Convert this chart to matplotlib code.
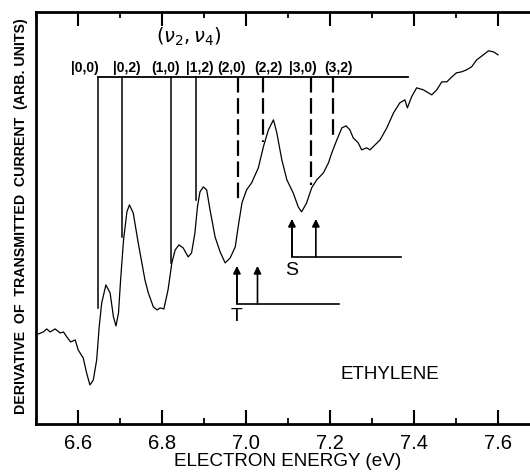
import matplotlib
matplotlib.use("Agg")
import matplotlib.pyplot as plt
from matplotlib.ticker import MultipleLocator

# derivative of transmitted current vs electron energy (arb. units)
energy = [6.505, 6.517, 6.525, 6.533, 6.545, 6.557, 6.565, 6.573, 6.582, 6.593,
	6.600, 6.612, 6.620, 6.628, 6.636, 6.644, 6.650, 6.656, 6.666, 6.676,
	6.684, 6.690, 6.696, 6.701, 6.708, 6.716, 6.722, 6.731, 6.743, 6.759,
	6.767, 6.779, 6.788, 6.795, 6.804, 6.814, 6.823, 6.831, 6.840, 6.850,
	6.862, 6.870, 6.878, 6.884, 6.890, 6.898, 6.906, 6.914, 6.926, 6.938,
	6.950, 6.962, 6.974, 6.981, 6.990, 7.001, 7.013, 7.029, 7.041, 7.053,
	7.065, 7.073, 7.085, 7.097, 7.112, 7.124, 7.132, 7.144, 7.156, 7.168,
	7.184, 7.196, 7.204, 7.216, 7.228, 7.238, 7.247, 7.255, 7.267, 7.275,
	7.287, 7.295, 7.307, 7.319, 7.335, 7.351, 7.366, 7.378, 7.384, 7.394,
	7.406, 7.422, 7.442, 7.454, 7.466, 7.478, 7.490, 7.501, 7.513, 7.525,
	7.537, 7.549, 7.565, 7.577, 7.589, 7.600]
signal = [90, 92, 95, 92, 95, 91, 92, 87, 82, 84,
	74, 66, 51, 39, 44, 64, 97, 121, 139, 131,
	107, 98, 111, 144, 184, 212, 219, 211, 181, 144,
	131, 117, 114, 116, 115, 134, 161, 174, 179, 176,
	167, 171, 191, 217, 232, 237, 234, 214, 187, 172,
	161, 166, 177, 197, 221, 234, 241, 256, 277, 294,
	304, 291, 264, 244, 231, 217, 212, 221, 236, 244,
	251, 261, 271, 284, 296, 298, 294, 286, 281, 274,
	276, 274, 279, 284, 296, 311, 321, 324, 316, 327,
	336, 334, 329, 334, 342, 342, 347, 351, 352, 354,
	357, 364, 369, 373, 372, 369]

# (nu2, nu4) vibrational assignments
level_labels = ["|0,0)", "|0,2)", "(1,0)", "|1,2)", "(2,0)", "(2,2)", "|3,0)", "(3,2)"]
level_energy = [6.646, 6.704, 6.821, 6.881, 6.980, 7.040, 7.155, 7.208]
level_end = [116, 187, 161, 224, 224, 282, 239, 289]
level_dashed = [False, False, False, False, True, True, True, True]
label_energy = [6.616, 6.716, 6.809, 6.890, 6.964, 7.052, 7.136, 7.221]
level_top = 347
level_right = 7.386

# triplet (T) and singlet (S) arrows
t_energy = [6.978, 7.027]
t_right = 7.221
s_energy = [7.109, 7.166]
s_right = 7.368

fig = plt.figure(figsize=(5.3, 4.74), dpi=100)
ax = fig.add_axes([0.0683, 0.1055, 1 - 0.0683, 0.8696])

ax.plot(energy, signal, color="black", lw=0.9)

ax.plot([level_energy[0], level_right], [level_top, level_top], color="black", lw=1.3)
for e, end, dashed in zip(level_energy, level_end, level_dashed):
	if dashed:
		ax.plot([e, e], [level_top, end], color="black", lw=1.6, dashes=(7, 2.5))
	else:
		ax.plot([e, e], [level_top, end], color="black", lw=1.1)
for lab, e in zip(level_labels, label_energy):
	ax.text(e, 356, lab, ha="center", va="center", fontsize=10, fontweight="bold",
		family="Liberation Sans")
ax.text(6.864, 387, r"$(\nu_2,\nu_4)$", ha="center", va="center", fontsize=14)

def arrow_group(xs, right, base, tip, name, name_y):
	ax.plot([xs[0], xs[0], right], [tip - 2, base, base], color="black", lw=1.2)
	for x in xs:
		ax.annotate("", xy=(x, tip), xytext=(x, base),
			arrowprops=dict(arrowstyle="-|>", color="black", lw=1.2, mutation_scale=11,
				shrinkA=0, shrinkB=0))
	ax.text(xs[0], name_y, name, ha="center", va="center", fontsize=14,
		family="Liberation Sans")

arrow_group(t_energy, t_right, 120, 158, "T", 107)
arrow_group(s_energy, s_right, 167, 205, "S", 153)

ax.text(7.342, 49, "ETHYLENE", ha="center", va="center", fontsize=13.5,
	family="Liberation Sans")

ax.set_xlim(6.5, 7.676)
ax.set_ylim(0, 412)
ax.xaxis.set_major_locator(MultipleLocator(0.2))
ax.xaxis.set_minor_locator(MultipleLocator(0.1))
ax.set_xticks([6.6, 6.8, 7.0, 7.2, 7.4, 7.6])
ax.set_xticklabels(["6.6", "6.8", "7.0", "7.2", "7.4", "7.6"], family="Liberation Sans",
	fontsize=14.5)
ax.set_yticks([])
ax.tick_params(axis="x", which="major", direction="in", length=10, width=1.5,
	top=True, pad=7)
ax.tick_params(axis="x", which="minor", direction="in", length=4.5, width=1.3, top=True)
for side in ["left", "bottom", "top"]:
	ax.spines[side].set_linewidth(2)
ax.spines["right"].set_visible(False)

fig.text(288 / 530, 1 - 461.6 / 474, "ELECTRON ENERGY (eV)", ha="center", va="center",
	fontsize=13.6, family="Liberation Sans")
fig.text(21 / 530, 1 - 216 / 474, "DERIVATIVE  OF  TRANSMITTED  CURRENT  (ARB. UNITS)",
	rotation=90, ha="center", va="center", fontsize=10.2, fontweight="bold",
	family="Liberation Sans")

fig.savefig("out.png", dpi=100)
